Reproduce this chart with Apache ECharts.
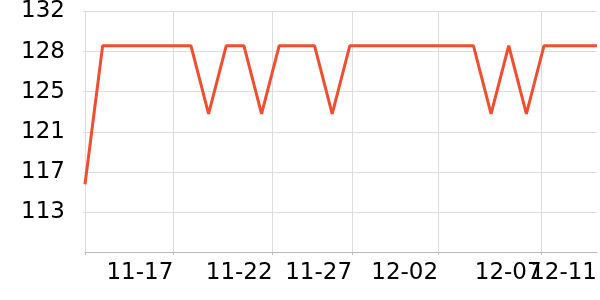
<!DOCTYPE html>
<html>
<head>
<meta charset="utf-8">
<style>
  html, body { margin: 0; padding: 0; background: #fff; }
  #chart { width: 600px; height: 300px; }
</style>
<script src="https://cdn.jsdelivr.net/npm/echarts@6/dist/echarts.min.js"></script>
</head>
<body>
<div id="chart"></div>
<script>
// Dates of the daily readings
const dates = [
  '2023-11-12','2023-11-13','2023-11-14','2023-11-15','2023-11-16','2023-11-17',
  '2023-11-18','2023-11-19','2023-11-20','2023-11-21','2023-11-22','2023-11-23',
  '2023-11-24','2023-11-25','2023-11-26','2023-11-27','2023-11-28','2023-11-29',
  '2023-11-30','2023-12-01','2023-12-02','2023-12-03','2023-12-04','2023-12-05',
  '2023-12-06','2023-12-07','2023-12-08','2023-12-09','2023-12-10','2023-12-11'
];
// Series values
const values = [
  116.0, 128.8, 128.8, 128.8, 128.8, 128.8,
  128.8, 122.5, 128.8, 128.8, 122.5, 128.8,
  128.8, 128.8, 122.5, 128.8, 128.8, 128.8,
  128.8, 128.8, 128.8, 128.8, 128.8, 122.5,
  128.8, 122.5, 128.8, 128.8, 128.8, 128.8
];
// X tick / grid positions and label positions (date-times, UTC)
const xTickTimes = [
  '2023-11-12T00:00', '2023-11-17T00:00', '2023-11-22T15:00', '2023-11-27T03:00',
  '2023-12-02T00:00', '2023-12-07T20:40'
];
const xLabelTimes = [
  '2023-11-17T00:00', '2023-11-22T15:00', '2023-11-27T03:00',
  '2023-12-02T00:00', '2023-12-07T20:40', '2023-12-11T00:00'
];
const xLabelTexts = ['11-17', '11-22', '11-27', '12-02', '12-07', '12-11'];
// Y axis scale
const yMin = 109.75;
const yMax = 131.95;
const yStep = 3.7;

function ts(s) { return Date.parse(s.length === 10 ? s + 'T00:00:00Z' : s + ':00Z'); }

const chart = echarts.init(document.getElementById('chart'), null, { renderer: 'canvas' });
const fontFamily = 'DejaVu Sans';
const labelTs = xLabelTimes.map(ts);
const xMin = ts(dates[0]);
const xMax = ts(dates[dates.length - 1]);

function labelFormatter(v) {
  const i = labelTs.indexOf(v);
  return i >= 0 ? xLabelTexts[i] : '';
}
const xLabelStyle = {
  align: 'right',
  color: '#000000',
  fontSize: 23,
  fontFamily: fontFamily,
  margin: 10,
  hideOverlap: false,
  showMinLabel: true,
  showMaxLabel: true,
  formatter: labelFormatter
};

chart.setOption({
  animation: false,
  backgroundColor: '#ffffff',
  grid: { left: 85, right: 2, top: 10, bottom: 48, containLabel: false },
  xAxis: [{
    type: 'value',
    min: xMin,
    max: xMax,
    axisLine: { show: true, lineStyle: { color: '#bbbbbb', width: 1 } },
    axisTick: { show: true, length: 3, lineStyle: { color: '#bbbbbb' }, customValues: xTickTimes.map(ts) },
    splitLine: { show: true, lineStyle: { color: '#dddddd', width: 1 } },
    axisLabel: Object.assign({ customValues: labelTs.slice(0, labelTs.length - 1) }, xLabelStyle)
  }, {
    // carries the last date label, which overlaps its neighbour as in the original
    type: 'value',
    position: 'bottom',
    min: xMin,
    max: xMax,
    axisLine: { show: false },
    axisTick: { show: false },
    splitLine: { show: false },
    axisLabel: Object.assign({ customValues: labelTs.slice(labelTs.length - 1) }, xLabelStyle)
  }],
  yAxis: {
    type: 'value',
    min: yMin,
    max: yMax,
    interval: yStep,
    axisLine: { show: false },
    axisTick: { show: true, length: 2, lineStyle: { color: '#dddddd' } },
    splitLine: { show: true, lineStyle: { color: '#dddddd', width: 1 } },
    axisLabel: {
      showMinLabel: false,
      formatter: function (v) { return String(Math.round(v)); },
      color: '#000000',
      fontSize: 23,
      fontFamily: fontFamily,
      margin: 20
    }
  },
  series: [{
    type: 'line',
    xAxisIndex: 0,
    data: dates.map((d, i) => [ts(d), values[i]]),
    showSymbol: false,
    symbol: 'none',
    lineStyle: { color: '#f04e30', width: 3 },
    itemStyle: { color: '#f04e30' }
  }]
});
</script>
</body>
</html>
